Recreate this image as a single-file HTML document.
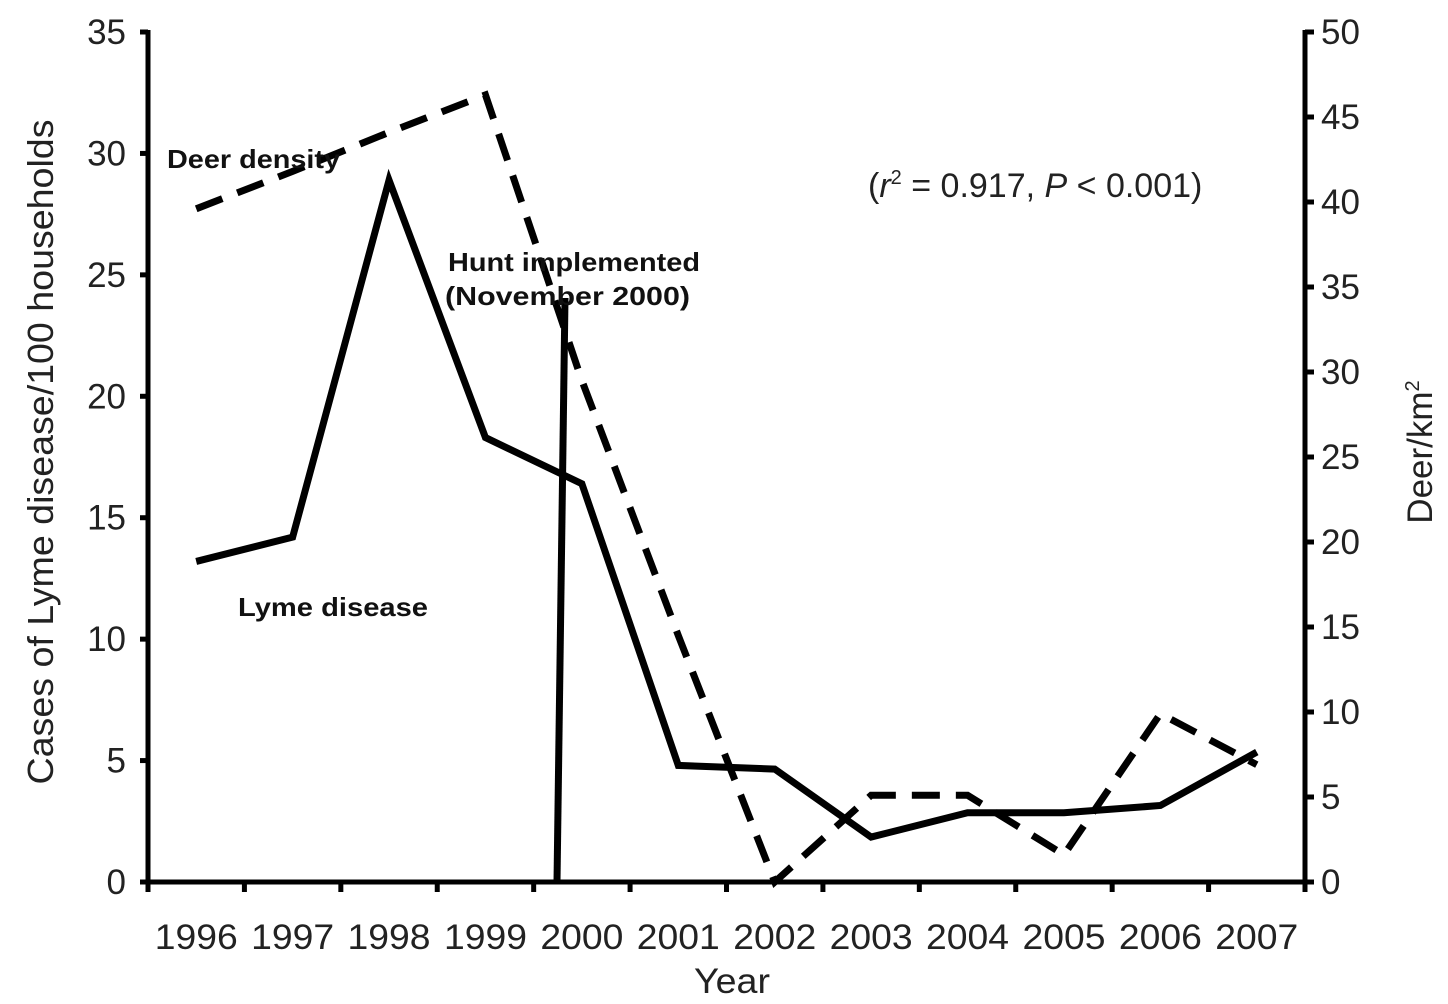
<!DOCTYPE html>
<html><head><meta charset="utf-8"><style>
body{margin:0;background:#fff}
svg{display:block;font-family:"Liberation Sans",sans-serif}
</style></head><body>
<svg id="chart" width="1448" height="1004" viewBox="0 0 1448 1004"></svg>
<script>
const years = ['1996','1997','1998','1999','2000','2001','2002','2003','2004','2005','2006','2007'];
const lymeCases = [13.2,14.2,28.9,18.3,16.4,4.8,4.65,1.85,2.85,2.85,3.15,5.35];
const deerDensity = [39.6,41.8,44.1,46.3,29.5,14.5,0,5.1,5.1,1.6,9.9,6.9];
const leftTicks = [0,5,10,15,20,25,30,35];
const rightTicks = [0,5,10,15,20,25,30,35,40,45,50];

const svg = document.getElementById('chart');
const NS = 'http://www.w3.org/2000/svg';
const X0 = 148, X1 = 1305, Y0 = 882, Y1 = 32;
const band = (X1 - X0) / years.length;
const xPos = i => X0 + band * (i + 0.5);
const yL = v => Y0 - (v / 35) * (Y0 - Y1);
const yR = v => Y0 - (v / 50) * (Y0 - Y1);
function el(tag, attrs, parent) {
  const e = document.createElementNS(NS, tag);
  for (const k in attrs) e.setAttribute(k, attrs[k]);
  (parent || svg).appendChild(e);
  return e;
}
function txt(s, attrs) { const t = el('text', attrs); t.textContent = s; return t; }

let a = el('line', {x1:X0,y1:Y1-2,x2:X0,y2:Y0+2,stroke:'#000','stroke-width':5});


a = el('line', {x1:X1,y1:Y1-2,x2:X1,y2:Y0+2,stroke:'#000','stroke-width':5});


a = el('line', {x1:X0,y1:Y0,x2:X1,y2:Y0,stroke:'#000','stroke-width':5});



leftTicks.forEach(v => {
  el('line', {x1:X0-8,y1:yL(v),x2:X0,y2:yL(v),stroke:'#000','stroke-width':5});
  const t = txt(String(v), {x:X0-22,y:yL(v)+12,'text-anchor':'end','font-size':35,fill:'#222'});
  
  
});
rightTicks.forEach(v => {
  el('line', {x1:X1,y1:yR(v),x2:X1+9,y2:yR(v),stroke:'#000','stroke-width':5});
  const t = txt(String(v), {x:X1+16,y:yR(v)+12,'text-anchor':'start','font-size':35,fill:'#222'});
  
  
});
for (let i = 0; i <= years.length; i++) {
  const x = X0 + band * i;
  el('line', {x1:x,y1:Y0,x2:x,y2:Y0+10,stroke:'#000','stroke-width':5});
}
years.forEach((y, i) => {
  const t = txt(y, {x:xPos(i),y:949,'text-anchor':'middle','font-size':35,textLength:83,lengthAdjust:'spacingAndGlyphs',fill:'#222'});
  
  
});

let t = txt('Year', {x:732,y:993,'text-anchor':'middle','font-size':35,textLength:76,lengthAdjust:'spacingAndGlyphs',fill:'#222'});


t = txt('Cases of Lyme disease/100 households', {x:0,y:0,transform:'translate(53,452) rotate(-90)','text-anchor':'middle','font-size':36,textLength:665,lengthAdjust:'spacingAndGlyphs',fill:'#222'});


t = el('text', {transform:'translate(1432,452) rotate(-90)','text-anchor':'middle','font-size':35,fill:'#222'});
t.innerHTML = 'Deer/km<tspan font-size="20" dy="-13">2</tspan>';



const lymePts = lymeCases.map((v, i) => xPos(i) + ',' + yL(v)).join(' ');
const lyme = el('polyline', {points:lymePts,fill:'none',stroke:'#000','stroke-width':7,'stroke-linejoin':'miter'});


const deerPts = deerDensity.map((v, i) => xPos(i) + ',' + yR(v)).join(' ');
const deer = el('polyline', {points:deerPts,fill:'none',stroke:'#000','stroke-width':7,'stroke-dasharray':'28,16'});



const hunt = el('line', {x1:565,y1:298,x2:557,y2:Y0,stroke:'#000','stroke-width':7});



t = txt('Deer density', {x:167,y:168,'font-size':26,'font-weight':'bold',textLength:173,lengthAdjust:'spacingAndGlyphs',fill:'#111'});


t = txt('Lyme disease', {x:238,y:616,'font-size':26,'font-weight':'bold',textLength:190,lengthAdjust:'spacingAndGlyphs',fill:'#111'});


t = txt('Hunt implemented', {x:448,y:271,'font-size':26,'font-weight':'bold',textLength:252,lengthAdjust:'spacingAndGlyphs',fill:'#111'});


t = txt('(November 2000)', {x:445,y:305,'font-size':26,'font-weight':'bold',textLength:245,lengthAdjust:'spacingAndGlyphs',fill:'#111'});


t = el('text', {x:868,y:197,'font-size':34,fill:'#222'});
t.innerHTML = '(<tspan font-style="italic">r</tspan><tspan font-size="20" dy="-13">2</tspan><tspan dy="13"> = 0.917, </tspan><tspan font-style="italic">P</tspan> &lt; 0.001)';


</script>
</body></html>
